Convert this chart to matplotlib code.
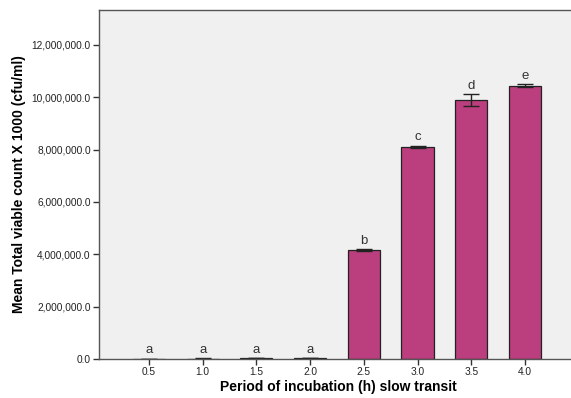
import matplotlib
matplotlib.use("Agg")
import matplotlib.pyplot as plt
import numpy as np

plt.rcParams["font.family"] = ["Liberation Sans", "DejaVu Sans"]

periods = ["0.5", "1.0", "1.5", "2.0", "2.5", "3.0", "3.5", "4.0"]
mean_count = [12000, 15000, 30000, 40000, 4160000, 8110000, 9890000, 10430000]
err = [5000, 5000, 8000, 8000, 40000, 40000, 230000, 60000]
letters = ["a", "a", "a", "a", "b", "c", "d", "e"]

fig = plt.figure(figsize=(5.71, 3.98), dpi=100)
ax = fig.add_axes([0.1734, 0.098, 0.84, 0.877])
ax.set_facecolor("#f0f0f0")

x = np.arange(len(periods))
ax.bar(x, mean_count, width=0.6, color="#bb3e7e", edgecolor="#222222", linewidth=0.9,
       yerr=err, error_kw=dict(ecolor="#222222", elinewidth=1, capsize=6, capthick=1))

for xi, v, e, lab in zip(x, mean_count, err, letters):
    ax.text(xi, v + e + 80000, lab, ha="center", va="bottom", fontsize=9.5, color="#333333")

ax.set_xlim(-0.93, 8.0)
ax.set_ylim(0, 13330000)
ax.set_xticks(x)
ax.set_xticklabels(periods)
yt = np.arange(0, 12000001, 2000000)
ax.set_yticks(yt)
ax.set_yticklabels([f"{v:,.1f}" for v in yt])
ax.tick_params(labelsize=7.3, colors="#333333", length=4, width=1, pad=2)
ax.tick_params(labelcolor="#222222")

for s in ["left", "bottom", "top"]:
    ax.spines[s].set_color("#555555")
    ax.spines[s].set_linewidth(1)
ax.spines["right"].set_visible(False)

ax.set_xlabel("Period of incubation (h) slow transit", fontsize=10, fontweight="bold", labelpad=2)
ax.set_ylabel("Mean Total viable count X 1000 (cfu/ml)", fontsize=10, fontweight="bold", labelpad=4)

fig.savefig("out.png", dpi=100)
